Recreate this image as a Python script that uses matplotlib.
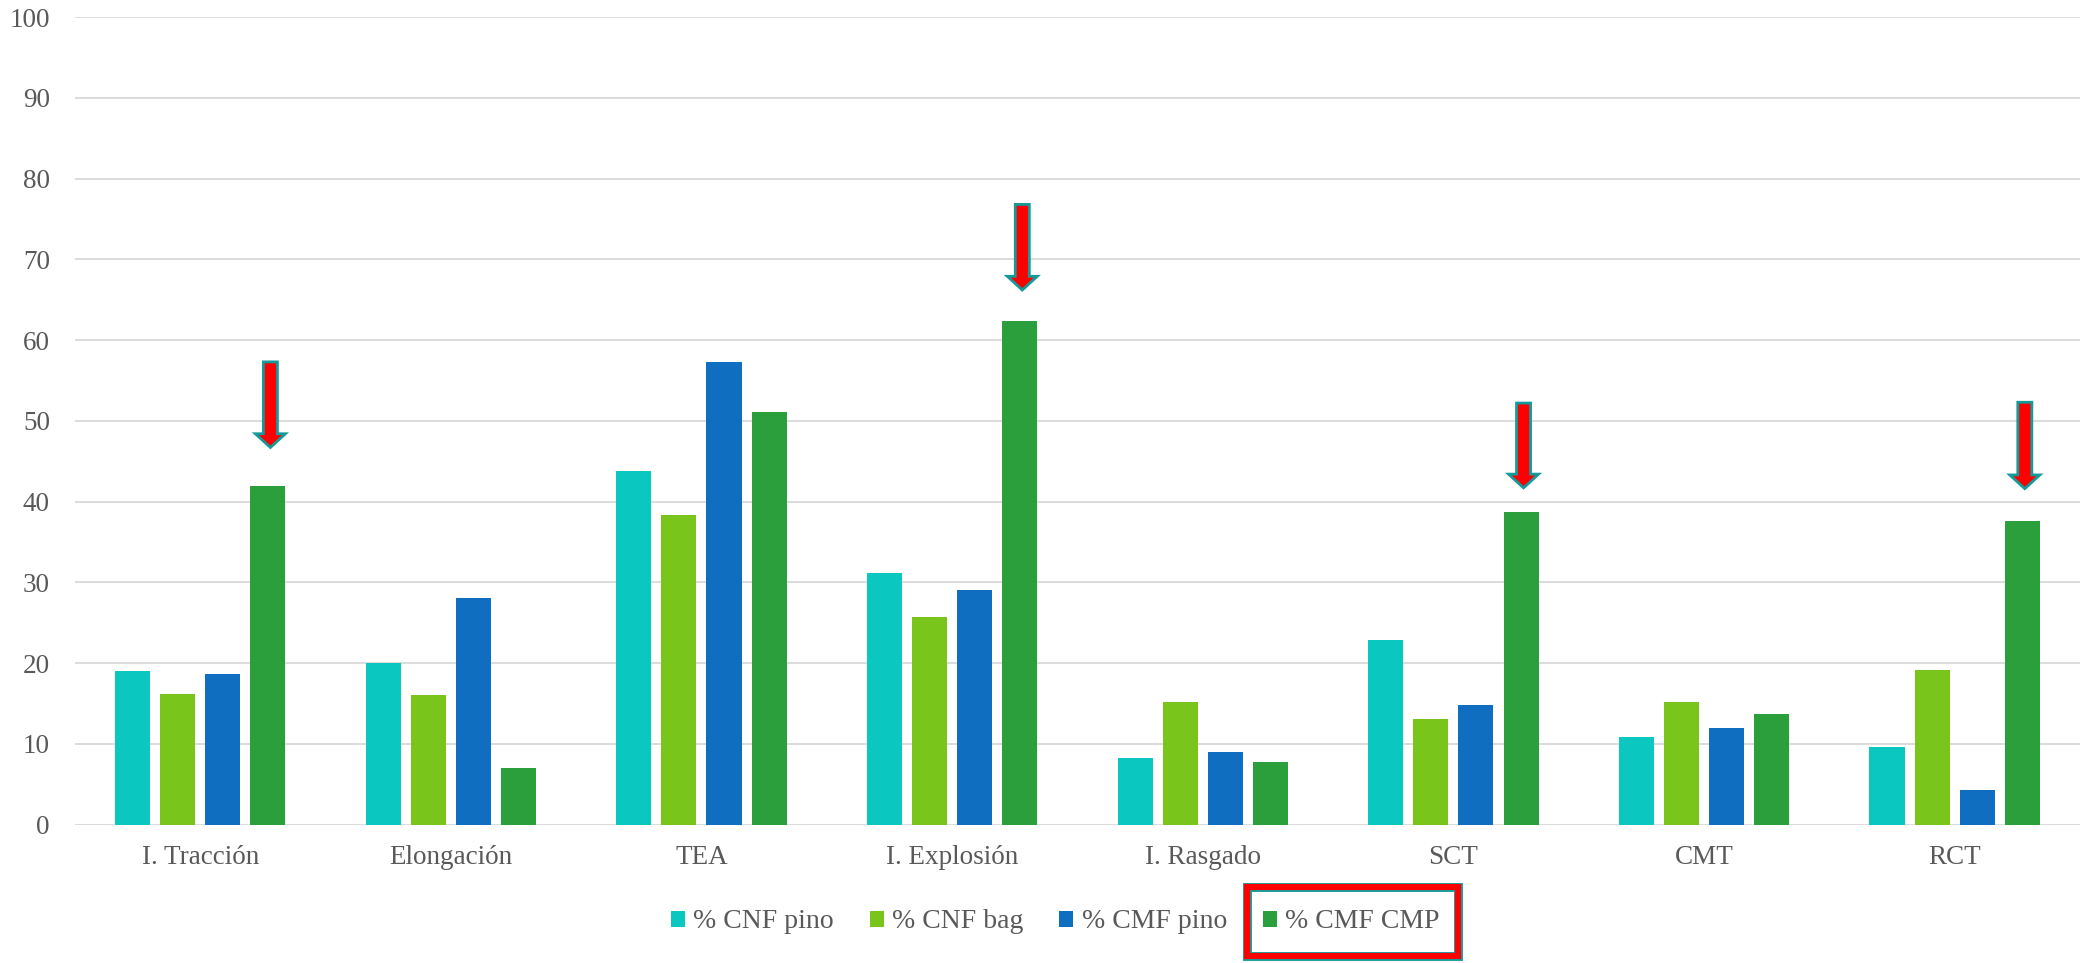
import matplotlib
matplotlib.use("Agg")
import matplotlib.pyplot as plt
import numpy as np
from matplotlib.patches import Rectangle

categories = ["I. Tracción", "Elongación", "TEA", "I. Explosión", "I. Rasgado", "SCT", "CMT", "RCT"]
series_names = ["% CNF pino", "% CNF bag", "% CMF pino", "% CMF CMP"]
cnf_pino = [19.0, 20.0, 43.8, 31.2, 8.2, 22.9, 10.9, 9.6]
cnf_bag = [16.2, 16.1, 38.3, 25.7, 15.2, 13.1, 15.2, 19.2]
cmf_pino = [18.6, 28.0, 57.3, 29.0, 9.0, 14.8, 12.0, 4.3]
cmf_cmp = [41.9, 7.0, 51.1, 62.4, 7.7, 38.7, 13.7, 37.6]
colors = ["#0AC8C0", "#79C51B", "#0F6EBF", "#2A9F3B"]
yticks = list(range(0, 101, 10))

# arrows (category index, top value, tip value) highlighting % CMF CMP
arrow_cats = [0, 3, 5, 7]
arrow_top = [57.3, 76.8, 52.2, 52.3]
arrow_tip = [46.7, 66.2, 41.7, 41.6]

plt.rcParams['font.family'] = ['Liberation Serif', 'DejaVu Serif']
txt_color = "#595959"

fig = plt.figure(figsize=(20.98, 9.63), dpi=100)
ax = fig.add_axes([0.0357, 0.1437, 0.9557, 0.8386])

x = np.arange(len(categories))
step = 0.18
width = 0.14
all_series = [cnf_pino, cnf_bag, cmf_pino, cmf_cmp]
for i, (vals, name, c) in enumerate(zip(all_series, series_names, colors)):
    ax.bar(x + (i - 1.5) * step, vals, width=width, color=c, label=name, zorder=3)

ax.set_xlim(-0.5, len(categories) - 0.5)
ax.set_ylim(0, 100)
ax.set_yticks(yticks)
ax.set_xticks(x)
ax.set_xticklabels(categories)
ax.grid(axis='y', color="#D9D9D9", linewidth=1.3, zorder=0)
ax.set_axisbelow(True)
for s in ax.spines.values():
    s.set_visible(False)
ax.tick_params(axis='both', length=0, colors=txt_color, labelsize=19.5)
ax.tick_params(axis='y', pad=18)
ax.tick_params(axis='x', pad=15)

for ci, top, tip in zip(arrow_cats, arrow_top, arrow_tip):
    xa = ci + 1.5 * step + 0.01
    ax.arrow(xa, top, 0, tip - top, width=0.056, head_width=0.12, head_length=1.7,
             length_includes_head=True, fc="#FF0000", ec="#159A9A", lw=2, zorder=5)

leg = fig.legend(loc='center', bbox_to_anchor=(0.503, 0.0426), ncol=4, frameon=False,
                 fontsize=20, handlelength=0.5, handleheight=0.5, handletextpad=0.3,
                 columnspacing=1.3)
for t in leg.get_texts():
    t.set_color(txt_color)

fig.canvas.draw()
r = fig.canvas.get_renderer()
bb_t = leg.get_texts()[3].get_window_extent(r)
bb_h = leg.legend_handles[3].get_window_extent(r)
x0 = bb_h.x0 - 16
x1 = bb_t.x1 + 18
yc = (bb_t.y0 + bb_t.y1) / 2
h = 69
inv = fig.transFigure.inverted()
(fx0, fy0) = inv.transform((x0, yc - h / 2))
(fx1, fy1) = inv.transform((x1, yc + h / 2))
fig.add_artist(Rectangle((fx0, fy0), fx1 - fx0, fy1 - fy0, transform=fig.transFigure,
                         fill=False, ec="#169C9C", lw=6.4, zorder=10))
fig.add_artist(Rectangle((fx0, fy0), fx1 - fx0, fy1 - fy0, transform=fig.transFigure,
                         fill=False, ec="#FF0000", lw=4.4, zorder=11))

fig.savefig("out.png", dpi=100)
